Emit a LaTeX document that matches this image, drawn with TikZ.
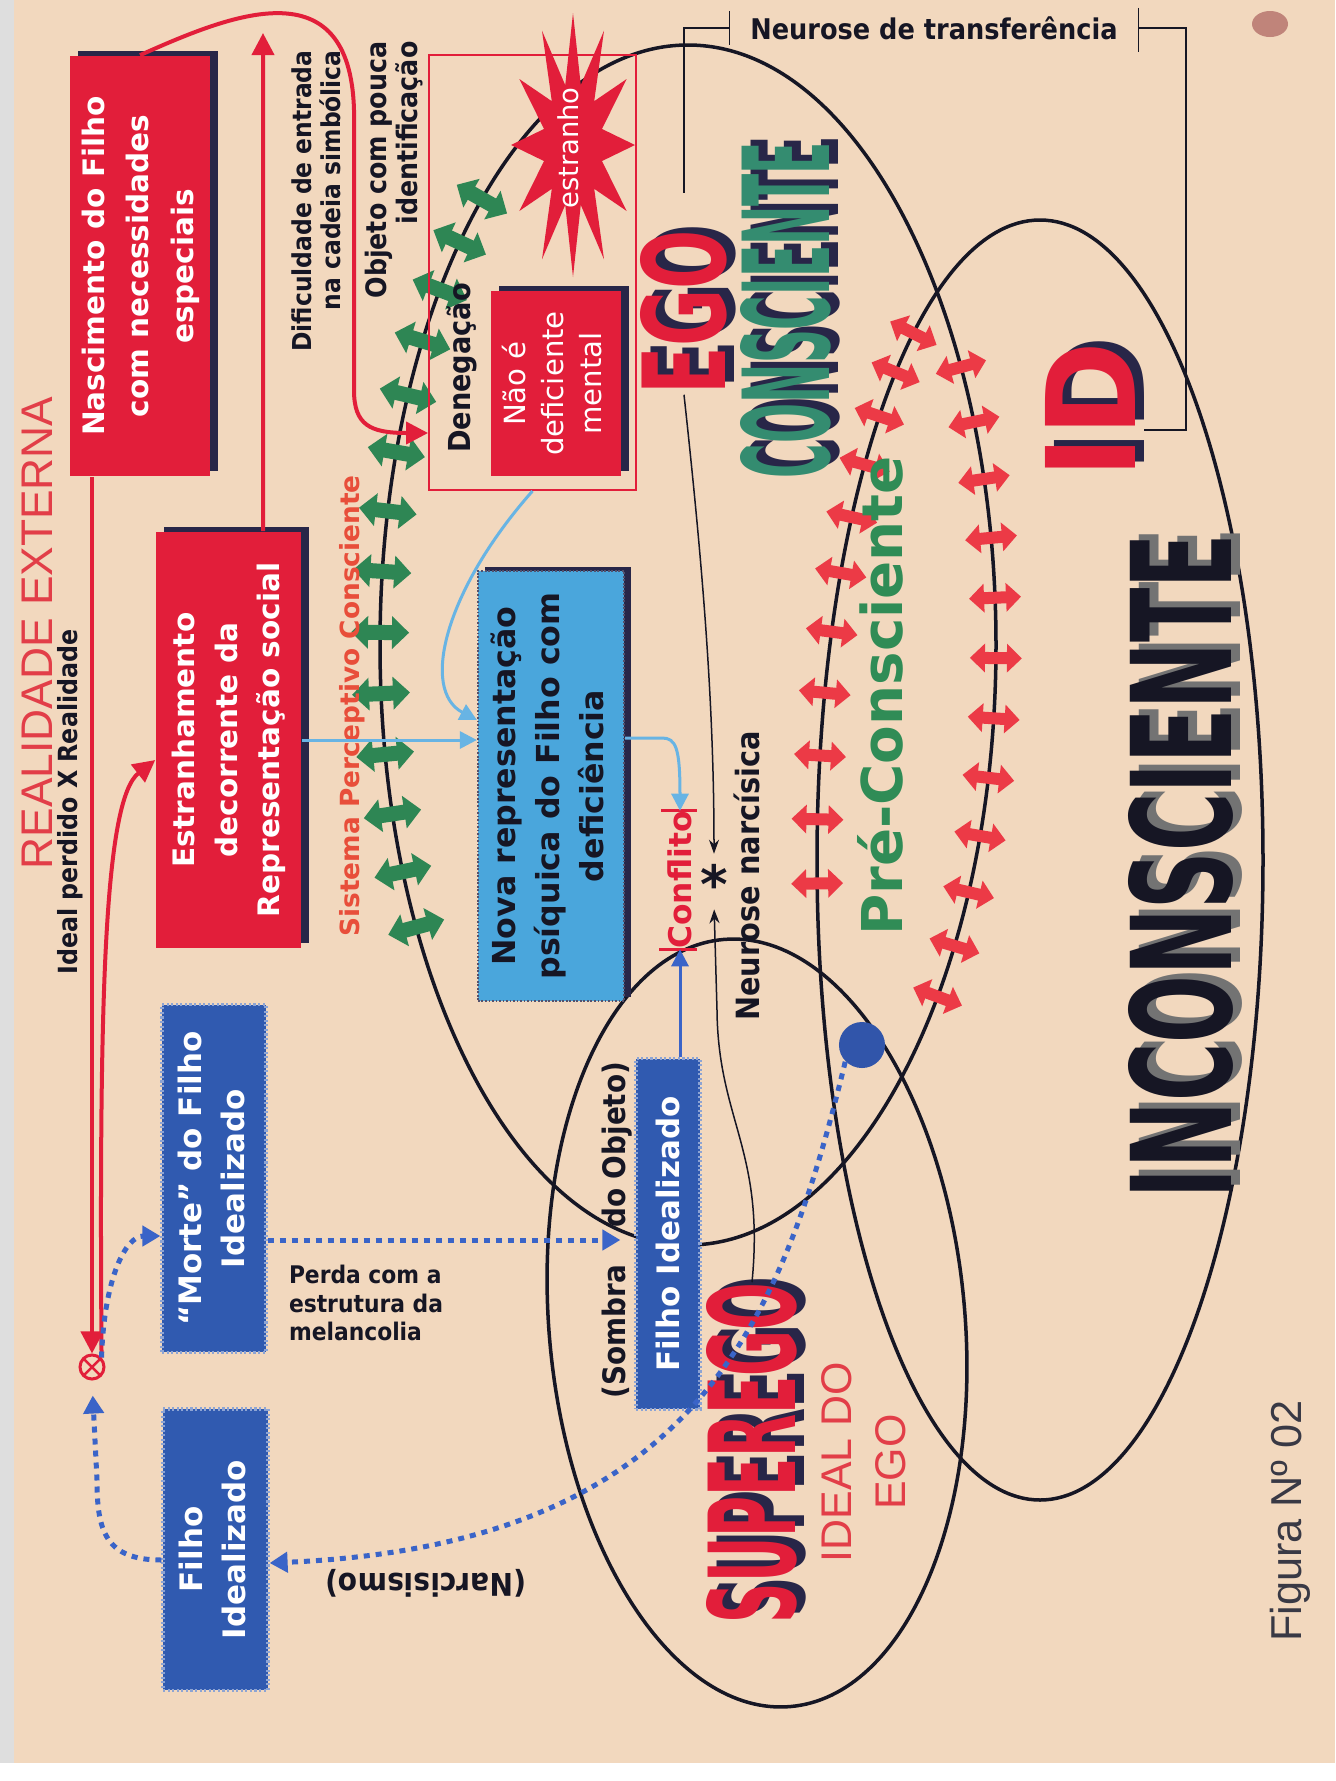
\documentclass[tikz,border=0pt]{standalone}
\usepackage{fontspec}
\usepackage{graphicx}
\setmainfont{DejaVu Sans}
\newfontfamily\arialfont{Liberation Sans}
\IfFontExistsTF{DejaVu Sans Condensed}
  {\newfontfamily\condfont{DejaVu Sans Condensed}}
  {\newfontfamily\condfont{DejaVu Sans}}
\usetikzlibrary{arrows.meta,shadows}

\definecolor{paper}{RGB}{242,216,190}
\definecolor{blot}{RGB}{192,132,122}
\definecolor{boxred}{RGB}{226,30,58}
\definecolor{shadowcol}{RGB}{40,38,72}
\definecolor{boxblue}{RGB}{48,90,176}
\definecolor{skyblue}{RGB}{74,166,220}
\definecolor{lineblue}{RGB}{104,180,228}
\definecolor{dotblue}{RGB}{58,100,200}
\definecolor{arrgreen}{RGB}{46,134,84}
\definecolor{arrred}{RGB}{236,58,70}
\definecolor{tealtext}{RGB}{52,140,112}
\definecolor{pregreen}{RGB}{48,140,86}
\definecolor{sisred}{RGB}{232,78,58}
\definecolor{thinred}{RGB}{226,62,72}
\definecolor{inkblack}{RGB}{22,22,36}

\newcommand{\rot}[1]{\rotatebox{90}{#1}}
\newcommand{\fs}[2]{\fontsize{#1}{#2}\selectfont}

\tikzset{
  redbox/.style={fill=boxred, text=white, inner sep=0pt, font=\bfseries,
    drop shadow={shadow xshift=0.08cm, shadow yshift=0.05cm, fill=shadowcol, opacity=1}},
  novabox/.style={fill=skyblue, draw=shadowcol!80, dash pattern=on 0.5pt off 0.5pt, line width=0.6pt,
    text=inkblack, inner sep=0pt, font=\bfseries,
    drop shadow={shadow xshift=0.07cm, shadow yshift=0.04cm, fill=shadowcol, opacity=1}},
  bluebox/.style={fill=boxblue, draw=boxblue!55!white, dash pattern=on 0.6pt off 0.7pt, line width=0.9pt,
    text=white, inner sep=0pt, font=\bfseries},
  lbl/.style={inner sep=0pt, text=inkblack, font=\condfont\bfseries},
  bigtext/.style={inner sep=0pt, font=\condfont\bfseries},
  oval/.style={draw=inkblack, line width=0.035cm},
  greenarr/.style={draw=arrgreen, line width=0.15cm,
    {Triangle[width=0.32cm,length=0.17cm]}-{Triangle[width=0.32cm,length=0.17cm]}},
  redarr/.style={draw=arrred, line width=0.12cm,
    {Triangle[width=0.28cm,length=0.15cm]}-{Triangle[width=0.28cm,length=0.15cm]}},
  redline/.style={draw=boxred, line width=0.04cm, -{Triangle[width=0.22cm,length=0.22cm]}},
  skyline/.style={draw=lineblue, line width=0.03cm, -{Triangle[width=0.17cm,length=0.17cm]}},
  blueline/.style={draw=dotblue, line width=0.03cm, -{Triangle[width=0.17cm,length=0.17cm]}},
  dotline/.style={draw=dotblue, line width=0.05cm, dash pattern=on 0.06cm off 0.06cm,
    -{Triangle[width=0.2cm,length=0.18cm]}},
  thinline/.style={draw=inkblack, line width=0.015cm},
  thinarrow/.style={thinline, -{Stealth[length=0.14cm,width=0.1cm]}}
}

\begin{document}
\begin{tikzpicture}[x=0.01cm,y=-0.01cm]
\useasboundingbox (0,0) rectangle (1335,1781);
\fill[white] (0,0) rectangle (1335,1781);
\fill[paper] (14,0) rectangle (1335,1763);
\fill[black!13] (0,0) rectangle (14,1763);
\fill[blot] (1270,24) ellipse [x radius=18, y radius=13];

% the three ovals
\draw[oval] (688,645) ellipse [x radius=308, y radius=600];
\draw[oval] (1040,860) ellipse [x radius=223, y radius=640];
\draw[oval, rotate around={5:(757,1323)}] (757,1323) ellipse [x radius=208, y radius=385];

% green arrows on the ego oval
\foreach \ang in {151.95,157.8,...,228.1}{
  \pgfmathsetmacro\nx{6*cos(\ang)}
  \pgfmathsetmacro\ny{3.08*sin(\ang)}
  \pgfmathsetmacro\nn{veclen(\nx,\ny)}
  \pgfmathsetmacro\dx{29*\nx/\nn}
  \pgfmathsetmacro\dy{29*\ny/\nn}
  \draw[greenarr] ({688+308*cos(\ang)-(\dx)},{645+600*sin(\ang)-(\dy)})
    -- ({688+308*cos(\ang)+(\dx)},{645+600*sin(\ang)+(\dy)});
}
% red arrows, right side of the ego oval
\foreach \ang in {-27.6,-21.83,...,36}{
  \pgfmathsetmacro\nx{6*cos(\ang)}
  \pgfmathsetmacro\ny{3.08*sin(\ang)}
  \pgfmathsetmacro\nn{veclen(\nx,\ny)}
  \pgfmathsetmacro\dx{26*\nx/\nn}
  \pgfmathsetmacro\dy{26*\ny/\nn}
  \draw[redarr] ({688+308*cos(\ang)-(\dx)},{645+600*sin(\ang)-(\dy)})
    -- ({688+308*cos(\ang)+(\dx)},{645+600*sin(\ang)+(\dy)});
}
% red arrows, left side of the id oval
\foreach \ang in {177.9,183.65,...,236}{
  \pgfmathsetmacro\nx{6.4*cos(\ang)}
  \pgfmathsetmacro\ny{2.23*sin(\ang)}
  \pgfmathsetmacro\nn{veclen(\nx,\ny)}
  \pgfmathsetmacro\dx{26*\nx/\nn}
  \pgfmathsetmacro\dy{26*\ny/\nn}
  \draw[redarr] ({1040+223*cos(\ang)-(\dx)},{860+640*sin(\ang)-(\dy)})
    -- ({1040+223*cos(\ang)+(\dx)},{860+640*sin(\ang)+(\dy)});
}

% star
\fill[boxred] plot[samples at={0,...,23}, variable=\k]
  ({573+(30+32*mod(\k+1,2))*cos(15*\k)},{145+(62+70*mod(\k+1,2))*sin(15*\k)}) -- cycle;
\node[inner sep=0pt, text=white] (estranho) at (568,148) {\rot{\fs{7.8}{9}estranho}};

% boxes
\node[redbox, minimum width=1.40cm, minimum height=4.20cm] (nasc) at (140,266)
  {\rot{\fs{8.4}{12.6}\begin{tabular}{@{}c@{}}Nascimento do Filho\\com necessidades\\especiais\end{tabular}}};
\node[redbox, minimum width=1.45cm, minimum height=4.16cm] (estr) at (228.5,740)
  {\rot{\fs{8.4}{12.2}\begin{tabular}{@{}c@{}}Estranhamento\\decorrente da\\Representação social\end{tabular}}};
\node[draw=boxred, line width=0.5pt, minimum width=2.07cm, minimum height=4.35cm, inner sep=0pt] (denframe) at (532.5,272.5) {};
\node[redbox, font=\mdseries, minimum width=1.30cm, minimum height=1.85cm] (naodef) at (556,383.5)
  {\rot{\fs{8.3}{10.8}\begin{tabular}{@{}c@{}}Não é\\deficiente\\mental\end{tabular}}};
\node[novabox, minimum width=1.46cm, minimum height=4.30cm] (nova) at (551,786)
  {\rot{\fs{9}{12.5}\begin{tabular}{@{}c@{}}Nova representação\\psíquica do Filho com\\deficiência\end{tabular}}};
\node[bluebox, minimum width=0.64cm, minimum height=3.50cm] (filhoR) at (668,1234)
  {\rot{\fs{8.8}{10}Filho Idealizado}};
\node[bluebox, minimum width=1.04cm, minimum height=3.47cm] (morte) at (214,1178.5)
  {\rot{\fs{8.8}{12.2}\begin{tabular}{@{}c@{}}“Morte” do Filho\\Idealizado\end{tabular}}};
\node[bluebox, minimum width=1.05cm, minimum height=2.81cm] (filhoL) at (215.5,1549.5)
  {\rot{\fs{8.8}{12.2}\begin{tabular}{@{}c@{}}Filho\\Idealizado\end{tabular}}};

% small labels
\node[lbl, text=thinred, font=\arialfont] (realext) at (37,633) {\rot{\fs{12.6}{14}REALIDADE EXTERNA}};
\node[lbl] (idealx) at (70,802) {\rot{\fs{7.5}{9}Ideal perdido X Realidade}};
\node[lbl] (dific) at (320,201)
  {\rot{\fs{7.4}{8.2}\begin{tabular}{@{}r@{}}Dificuldade de entrada\\na cadeia simbólica\end{tabular}}};
\node[lbl] (objeto) at (396,170)
  {\rot{\fs{8}{8.6}\begin{tabular}{@{}r@{}}Objeto com pouca\\identificação\end{tabular}}};
\node[lbl] (deneg) at (462,368) {\rot{\fs{8.6}{10}Denegação}};
\node[lbl, text=sisred, font=\bfseries] (sistema) at (352,706) {\rot{\fs{7.5}{9}Sistema Perceptivo Consciente}};
\node[lbl, text=pregreen, font=\bfseries] (precons) at (880,696) {\rot{\fs{16}{18}Pré-Consciente}};
\node[lbl] (narcis) at (747,876) {\rot{\fs{9.1}{10}Neurose narcísica}};
\node[inner sep=0pt, text=inkblack, font=\bfseries] (ast) at (714,884) {\fs{15}{15}*};
\node[inner sep=0pt, text=boxred, font=\bfseries] (conf) at (680,880) {\rot{\fs{8.9}{10}Conflito}};
\draw[boxred, line width=0.03cm] ([xshift=-0.06cm]conf.north west) -- ([xshift=0.04cm]conf.north east);
\draw[boxred, line width=0.03cm] ([xshift=-0.08cm]conf.south west) -- ([xshift=0.04cm]conf.south east);
\node[lbl] (sombra) at (617,1230) {\rot{\fs{8.8}{10}(Sombra\hspace{0.37cm}do Objeto)}};
\node[lbl, align=left, font=\condfont\bfseries\fs{6.9}{8}] (perda) at (366,1303) {Perda com a\\estrutura da\\melancolia};
\node[lbl] (narc) at (426,1583) {\rotatebox{180}{\fs{8.9}{10}(Narcisismo)}};
\node[lbl, inner xsep=0.2cm] (ntrans) at (934,28) {\fs{8.1}{9}Neurose de transferência};
\node[lbl, text=thinred, font=\arialfont] (idealego) at (868,1462)
  {\rot{\fs{12.2}{15.4}\begin{tabular}{@{}c@{}}IDEAL DO\\EGO\end{tabular}}};
\node[lbl, text=inkblack!85, font=\arialfont] (fig) at (1290,1521) {\rot{\fs{12.3}{14}Figura Nº 02}};

% bracket
\draw[thinline] ([yshift=0.17cm]ntrans.west) -- ([yshift=-0.17cm]ntrans.west);
\draw[thinline] (ntrans.west) -| (684,193);
\draw[thinline] ([yshift=0.2cm]ntrans.east) -- ([yshift=-0.24cm]ntrans.east);
\draw[thinline] (ntrans.east) -| (1186,430) -- (1144,430);

% big words with shadow
\node[bigtext, text=shadowcol] (egoshd) at (693,306) {\rot{\resizebox{1.64cm}{0.85cm}{EGO}}};
\node[bigtext, text=boxred] (ego) at (684,312) {\rot{\resizebox{1.64cm}{0.85cm}{EGO}}};
\node[bigtext, text=shadowcol] (conshd) at (795,304) {\rot{\resizebox{3.36cm}{0.89cm}{CONSCIENTE}}};
\node[bigtext, text=tealtext] (cons) at (786,310) {\rot{\resizebox{3.36cm}{0.89cm}{CONSCIENTE}}};
\node[bigtext, text=shadowcol] (idshd) at (1099,404) {\rot{\resizebox{1.37cm}{0.90cm}{ID}}};
\node[bigtext, text=boxred] (id) at (1090,410) {\rot{\resizebox{1.37cm}{0.90cm}{ID}}};
\node[bigtext, text=shadowcol] (supershd) at (761,1447) {\rot{\resizebox{3.40cm}{0.89cm}{SUPEREGO}}};
\node[bigtext, text=boxred] (super) at (752,1453) {\rot{\resizebox{3.40cm}{0.89cm}{SUPEREGO}}};
\node[bigtext, text=black!55] (inconshd) at (1190,860) {\rot{\resizebox{6.64cm}{1.03cm}{INCONSCIENTE}}};
\node[bigtext, text=inkblack] (incons) at (1181,866) {\rot{\resizebox{6.64cm}{1.03cm}{INCONSCIENTE}}};

% marks
\node[draw=boxred, circle, line width=0.03cm, minimum size=0.24cm, inner sep=0pt,
  path picture={\draw[boxred, line width=0.025cm]
    (path picture bounding box.north west) -- (path picture bounding box.south east)
    (path picture bounding box.north east) -- (path picture bounding box.south west);}] (ox) at (92,1367) {};
\node[circle, fill=dotblue!85!black, minimum size=0.46cm, inner sep=0pt] (bdot) at (862,1045) {};
\coordinate (redtop) at (263,33);

% red connectors
\draw[redline] (ox.north |- nasc.south) -- (ox.north);
\draw[redline] (ox.north east) .. controls (99,1000) and (104,800) .. ([yshift=-0.2cm]estr.west);
\draw[redline] ([xshift=0.345cm]estr.north) -- (redtop);
\draw[redline] (nasc.north) .. controls (230,15) and (350,-35) .. (354,110) -- (354,390)
  .. controls (354,425) and (370,433) .. (denframe.west |- 0,433);

% blue connectors
\draw[skyline] (estr.east) -- (nova.west |- estr.east);
\draw[skyline] (denframe.south) .. controls (445,590) and (420,690) .. (nova.west |- 0,720);
\draw[skyline] (nova.east |- 0,738) -- (662,738) .. controls (676,738) and (680,748) .. (conf.north);
\draw[blueline] (conf.south |- filhoR.north) -- (conf.south);

% black thin connectors
\draw[thinarrow, shorten >=0.1cm] (ego.south) .. controls (702,560) and (714,700) .. (ast.north);
\draw[thinarrow, shorten >=0.05cm] (super.north) .. controls (765,1150) and (718,1120) .. (717,1010) -- (ast.south);

% dotted connectors
\draw[dotline] (ox.north east) .. controls (104,1280) and (125,1236) .. (morte.west |- 0,1236);
\draw[dotline, shorten >=0.15cm] (filhoL.west |- 0,1560) .. controls (105,1560) and (97,1530) .. (97,1480) -- (ox.south);
\draw[dotline, shorten >=0.14cm] (morte.east |- 0,1240) -- (filhoR.west |- 0,1240);
\draw[dotline] (bdot.south west) .. controls (780,1330) and (690,1545) .. (filhoL.east |- 0,1563);
\end{tikzpicture}
\end{document}
